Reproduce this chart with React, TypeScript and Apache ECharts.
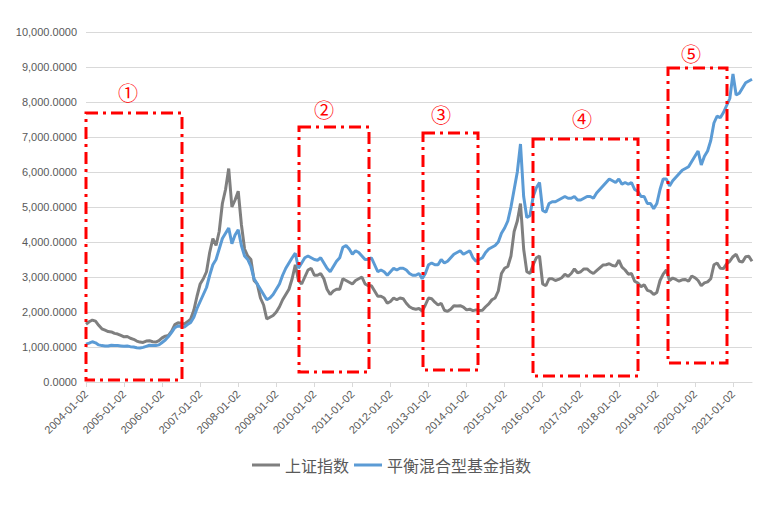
import React, { useEffect, useRef } from "react";
import * as echarts from "echarts";

// Monthly samples, Jan 2004 .. Jul 2021 (211 points)
const startYear = 2004;
const monthCount = 211;

// 上证指数
const shIndex: number[] = [
  // 2004
  1650, 1720, 1770, 1740, 1620, 1520, 1480, 1440, 1430, 1390, 1370, 1330,
  // 2005
  1290, 1300, 1250, 1220, 1170, 1140, 1130, 1170, 1180, 1150, 1140, 1180,
  // 2006
  1260, 1310, 1330, 1450, 1640, 1690, 1680, 1660, 1720, 1800, 2050, 2450,
  // 2007
  2800, 2950, 3150, 3700, 4100, 3900, 4300, 5100, 5500, 6100, 5000, 5200,
  // 2008
  5450, 4500, 3800, 3600, 3500, 2900, 2800, 2400, 2200, 1800, 1850, 1900,
  // 2009
  2000, 2150, 2350, 2500, 2650, 2950, 3350, 2900, 2800, 3000, 3200, 3250,
  // 2010
  3050, 3050, 3100, 2950, 2650, 2500, 2600, 2650, 2650, 2950, 2900, 2850,
  // 2011
  2800, 2900, 2950, 3000, 2800, 2750, 2750, 2600, 2450, 2450, 2400, 2250,
  // 2012
  2300, 2400, 2350, 2400, 2380, 2250, 2150, 2100, 2080, 2100, 2030, 2200,
  // 2013
  2400, 2380, 2280, 2200, 2250, 2050, 2020, 2080, 2180, 2170, 2180, 2140,
  // 2014
  2060, 2080, 2040, 2060, 2040, 2050, 2150, 2230, 2350, 2400, 2600, 3100,
  // 2015
  3250, 3300, 3600, 4300, 4600, 5100, 3800, 3150, 3100, 3350, 3550, 3600,
  // 2016
  2800, 2750, 2950, 2950, 2900, 2930, 2980, 3080, 3020, 3100, 3230, 3120,
  // 2017
  3150, 3230, 3230, 3150, 3100, 3180, 3260, 3340, 3350, 3380, 3330, 3310,
  // 2018
  3480, 3280, 3200, 3080, 3100, 2880, 2830, 2720, 2780, 2620, 2590, 2500,
  // 2019
  2560, 2900, 3080, 3200, 2900, 2970, 2930, 2880, 2920, 2930, 2880, 3030,
  // 2020
  2980, 2900, 2750, 2830, 2860, 2950, 3350, 3400, 3250, 3240, 3380, 3450,
  // 2021
  3580, 3650, 3450, 3430, 3580, 3590, 3450,
];

// 平衡混合型基金指数
const fundIndex: number[] = [
  // 2004
  1080, 1110, 1150, 1120, 1060, 1040, 1030, 1030, 1050, 1040, 1040, 1030,
  // 2005
  1020, 1030, 1010, 1000, 980, 970, 990, 1020, 1050, 1040, 1040, 1060,
  // 2006
  1130, 1200, 1300, 1420, 1550, 1600, 1590, 1570, 1640, 1700, 1850, 2100,
  // 2007
  2300, 2500, 2700, 3050, 3350, 3500, 3800, 4100, 4250, 4400, 3950, 4200,
  // 2008
  4350, 3900, 3600, 3500, 3300, 2950, 2800, 2650, 2500, 2350, 2400, 2500,
  // 2009
  2650, 2800, 3050, 3250, 3400, 3550, 3680, 3250, 3400, 3550, 3600, 3550,
  // 2010
  3500, 3480, 3550, 3400, 3250, 3150, 3300, 3450, 3550, 3850, 3900, 3800,
  // 2011
  3650, 3750, 3700, 3600, 3500, 3500, 3550, 3350, 3150, 3200, 3150, 3050,
  // 2012
  3150, 3250, 3200, 3250, 3250, 3200, 3100, 3050, 3050, 3100, 2950, 3100,
  // 2013
  3350, 3400, 3350, 3350, 3500, 3400, 3450, 3550, 3650, 3700, 3750, 3650,
  // 2014
  3700, 3750, 3550, 3450, 3500, 3550, 3700, 3800, 3850, 3900, 4000, 4250,
  // 2015
  4400, 4600, 5000, 5500, 6000, 6800, 5300, 4700, 4750, 5300, 5550, 5700,
  // 2016
  4900, 4850, 5100, 5150, 5150, 5200, 5250, 5300, 5250, 5250, 5300, 5200,
  // 2017
  5200, 5250, 5300, 5300, 5250, 5400, 5500, 5600, 5700, 5800, 5750, 5700,
  // 2018
  5800, 5650, 5700, 5650, 5700, 5500, 5450, 5300, 5300, 5100, 5100, 4950,
  // 2019
  5100, 5500, 5800, 5800, 5600, 5750, 5850, 5950, 6050, 6100, 6150, 6300,
  // 2020
  6450, 6600, 6200, 6450, 6600, 6900, 7400, 7600, 7550, 7700, 7900, 8100,
  // 2021
  8800, 8200, 8250, 8400, 8550, 8600, 8650,
];

const seriesNames = ["上证指数", "平衡混合型基金指数"];
const seriesColors = ["#7f7f7f", "#5b9bd5"];

const categories: string[] = [];
for (let i = 0; i < monthCount; i++) {
  const y = startYear + Math.floor(i / 12);
  const m = (i % 12) + 1;
  categories.push(m === 1 ? `${y}-01-02` : `${y}-${String(m).padStart(2, "0")}`);
}

// annotation boxes (pixel) and circled labels
const boxes = [
  { x: 86, y: 113, w: 96, h: 267 },
  { x: 299, y: 127, w: 70, h: 245 },
  { x: 423, y: 133, w: 55, h: 237 },
  { x: 533, y: 139, w: 105, h: 237 },
  { x: 668, y: 68, w: 59, h: 295 },
];
const marks = [
  { t: "①", x: 128, y: 92 },
  { t: "②", x: 324, y: 109 },
  { t: "③", x: 441, y: 114 },
  { t: "④", x: 582, y: 118 },
  { t: "⑤", x: 691, y: 53 },
];

const FONT = "'Liberation Sans', Arial, sans-serif";
const CJK = "'Noto Sans CJK SC', sans-serif";

export default function App() {
  const ref = useRef<HTMLDivElement>(null);
  useEffect(() => {
    if (!ref.current) return;
    const chart = echarts.init(ref.current, undefined, { renderer: "svg" });
    const graphic: any[] = [];
    boxes.forEach((b) => {
      graphic.push({
        type: "rect",
        z: 100,
        shape: { x: b.x, y: b.y, width: b.w, height: b.h },
        style: { fill: "none", stroke: "#ff0000", lineWidth: 3, lineDash: [12, 5, 3, 5] },
      });
    });
    marks.forEach((m) => {
      graphic.push({
        type: "text",
        z: 100,
        x: m.x,
        y: m.y,
        style: {
          text: m.t,
          fill: "#ff0000",
          fontSize: 20,
          fontFamily: CJK,
          align: "center",
          verticalAlign: "middle",
        },
      });
    });
    chart.setOption({
      animation: false,
      backgroundColor: "#ffffff",
      grid: { left: 86, right: 25, top: 32, bottom: 123, containLabel: false },
      legend: {
        left: 247,
        top: 452,
        icon: "rect",
        itemWidth: 28,
        itemHeight: 3,
        itemGap: 5,
        data: seriesNames,
        textStyle: { fontSize: 16, color: "#595959", fontFamily: CJK },
      },
      xAxis: {
        type: "category",
        data: categories,
        boundaryGap: false,
        axisLine: { lineStyle: { color: "#d9d9d9", width: 1 } },
        axisTick: {
          show: true,
          interval: (i: number) => i % 12 === 0,
          length: 5,
          lineStyle: { color: "#d9d9d9" },
        },
        axisLabel: {
          interval: (i: number) => i % 12 === 0,
          rotate: 45,
          margin: 10,
          fontSize: 11,
          color: "#595959",
          fontFamily: FONT,
        },
        splitLine: { show: false },
      },
      yAxis: {
        type: "value",
        min: 0,
        max: 10000,
        interval: 1000,
        axisLine: { show: false },
        axisTick: { show: false },
        splitLine: { lineStyle: { color: "#d9d9d9", width: 1 } },
        axisLabel: {
          margin: 9,
          fontSize: 11,
          color: "#595959",
          fontFamily: FONT,
          formatter: (v: number) =>
            v.toLocaleString("en-US", { minimumFractionDigits: 4, maximumFractionDigits: 4 }),
        },
      },
      series: [
        {
          name: seriesNames[0],
          type: "line",
          data: shIndex,
          showSymbol: false,
          symbol: "none",
          color: seriesColors[0],
          lineStyle: { width: 3, color: seriesColors[0] },
        },
        {
          name: seriesNames[1],
          type: "line",
          data: fundIndex,
          showSymbol: false,
          symbol: "none",
          color: seriesColors[1],
          lineStyle: { width: 3, color: seriesColors[1] },
        },
      ],
      graphic,
    });
    return () => chart.dispose();
  }, []);
  return (
    <div
      ref={ref}
      style={{ position: "fixed", left: 0, top: 0, width: 777, height: 505, background: "#fff" }}
    />
  );
}
